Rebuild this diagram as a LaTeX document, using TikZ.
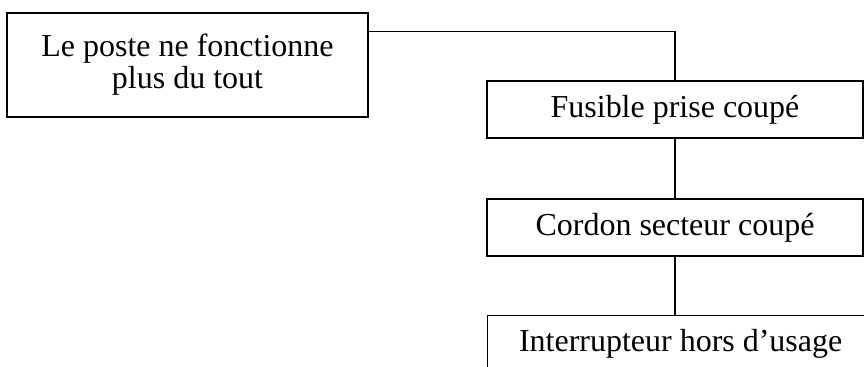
\documentclass[tikz,border=0pt]{standalone}
\usepackage{fontspec}
\setmainfont{Liberation Serif}
\usepackage{tikz}

\tikzset{
  panne/.style={draw, line width=0.75pt, align=center, inner sep=0pt,
    font=\fontsize{18.2}{18.2}\selectfont},
  lien/.style={line width=0.75pt}
}

\begin{document}
\begin{tikzpicture}[x=1cm,y=1cm]
\useasboundingbox (0,0) rectangle (17.28,-7.34);
\clip (0,0) rectangle (17.28,-7.34);
% symptome
\node[panne, minimum width=7.22cm, minimum height=2.08cm] (poste) at (3.75,-1.30) {Le poste ne fonctionne\\plus du tout};
% causes possibles
\node[panne, minimum width=7.52cm, minimum height=1.14cm] (fusible) at (13.5,-2.19) {Fusible prise coupé};
\node[panne, minimum width=7.52cm, minimum height=1.14cm] (cordon) at (13.5,-4.55) {Cordon secteur coupé};
\node[panne, minimum width=7.72cm, minimum height=1.14cm, anchor=north west] (inter) at (9.74,-6.30) {Interrupteur hors d’usage};
% liaisons
\draw[lien] ([yshift=-0.38cm]poste.north east) -| (fusible.north);
\draw[lien] (fusible.south) -- (cordon.north);
\draw[lien] (cordon.south) -- (cordon.south |- inter.north);
\end{tikzpicture}
\end{document}
